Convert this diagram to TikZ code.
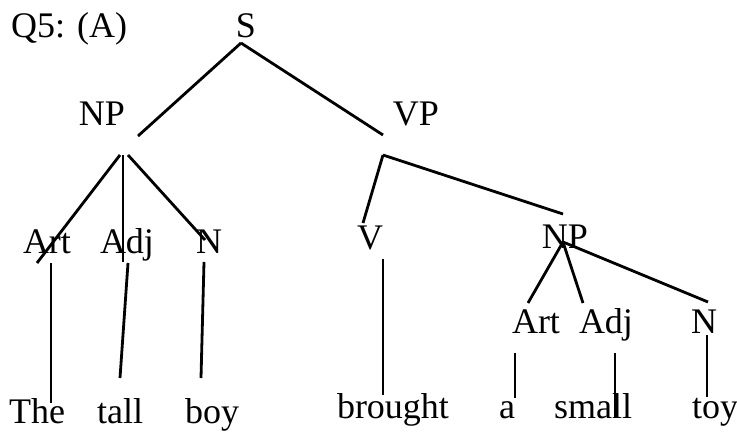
\documentclass[tikz,border=0pt]{standalone}
\usepackage{fontspec}
\setmainfont{Liberation Serif}
\begin{document}
\begin{tikzpicture}[x=1pt,y=1pt,
  lbl/.style={inner sep=0pt,anchor=base,font=\fontsize{36}{40}\selectfont},
  edge/.style={line width=2.8pt,black}]
\useasboundingbox (0,0) rectangle (737,-432);
% labels
\node[lbl,anchor=base west] (q) at (11,-37) {Q5: (A)};
\node[lbl] (S) at (246,-37) {S};
\node[lbl] (NPa) at (102,-125) {NP};
\node[lbl] (VP) at (416,-125) {VP};
\node[lbl] (Arta) at (47,-253) {Art};
\node[lbl] (Adja) at (127,-253) {Adj};
\node[lbl] (Na) at (209,-253) {N};
\node[lbl] (V) at (370,-249) {V};
\node[lbl] (NPb) at (565,-248) {NP};
\node[lbl] (Artb) at (536,-333) {Art};
\node[lbl] (Adjb) at (606,-333) {Adj};
\node[lbl] (Nb) at (704,-333) {N};
\node[lbl] (the) at (37,-423) {The};
\node[lbl] (tall) at (120,-423) {tall};
\node[lbl] (boy) at (212,-423) {boy};
\node[lbl] (brought) at (393,-418) {brought};
\node[lbl] (a) at (507,-418) {a};
\node[lbl] (small) at (593,-418) {small};
\node[lbl] (toy) at (715,-418) {toy};
% connectors
\draw[edge] ([shift={(-5,-6)}]S.base) -- ([shift={(36,-11)}]NPa.base);
\draw[edge] ([shift={(-5,-6)}]S.base) -- ([shift={(-33,-10)}]VP.base);
\draw[edge] ([shift={(18,-30)}]NPa.base) -- ([shift={(-10,-10)}]Arta.base);
\draw[edge] ([shift={(21,-30)}]NPa.base) -- ([shift={(-4,-9)}]Adja.base);
\draw[edge] ([shift={(26,-30)}]NPa.base) -- ([shift={(-4,13)}]Na.base);
\draw[edge] ([shift={(4,-10)}]Arta.base) -- ([shift={(14,20)}]the.base);
\draw[edge] ([shift={(1,-10)}]Adja.base) -- ([shift={(0,45)}]tall.base);
\draw[edge] ([shift={(-5,-9)}]Na.base) -- ([shift={(-11,45)}]boy.base);
\draw[edge] ([shift={(-33,-30)}]VP.base) -- ([shift={(-7,26)}]V.base);
\draw[edge] ([shift={(-33,-30)}]VP.base) -- ([shift={(-2,34)}]NPb.base);
\draw[edge] ([shift={(13,-10)}]V.base) -- ([shift={(-10,23)}]brought.base);
\draw[edge] ([shift={(-2,6)}]NPb.base) -- ([shift={(-8,30)}]Artb.base);
\draw[edge] ([shift={(-2,6)}]NPb.base) -- ([shift={(-23,30)}]Adjb.base);
\draw[edge] ([shift={(-2,6)}]NPb.base) -- ([shift={(4,31)}]Nb.base);
\draw[edge] ([shift={(-21,-20)}]Artb.base) -- ([shift={(8,20)}]a.base);
\draw[edge] ([shift={(9,-20)}]Adjb.base) -- ([shift={(22,0)}]small.base);
\draw[edge] ([shift={(3,-2)}]Nb.base) -- ([shift={(-8,21)}]toy.base);
\end{tikzpicture}
\end{document}
